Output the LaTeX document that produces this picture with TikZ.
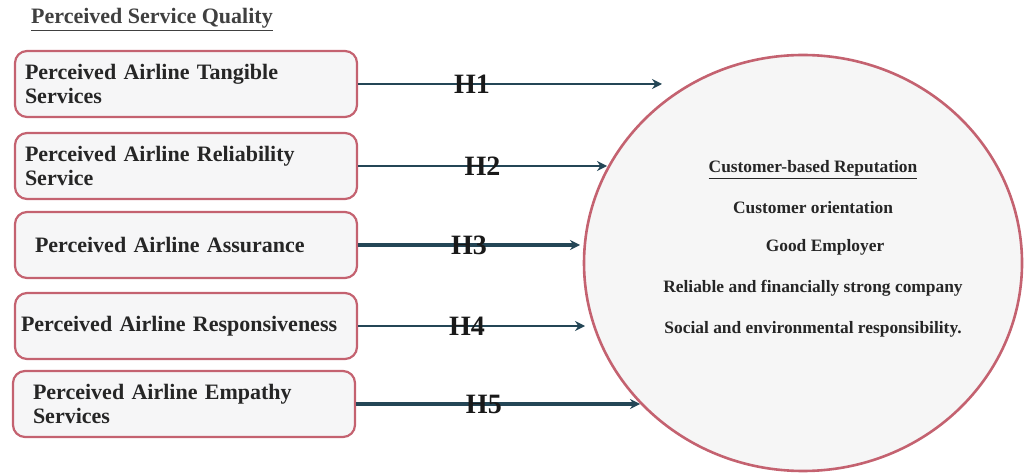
\documentclass[tikz,border=0pt]{standalone}
\usepackage{fontspec}
\setmainfont{Liberation Serif}
\usetikzlibrary{arrows.meta,shapes.geometric}
\definecolor{boxline}{RGB}{196,98,112}
\definecolor{boxfill}{RGB}{246,246,247}
\definecolor{arrowteal}{RGB}{36,70,86}
\tikzset{
  factor/.style={draw=boxline, line width=1.1pt, fill=boxfill, rounded corners=6pt,
    minimum width=171pt, minimum height=33pt, text width=165pt, align=left, inner xsep=3pt,
    font=\bfseries\fontsize{11}{12}\selectfont, text=black!85},
  hyp/.style={draw=arrowteal, line width=1.4pt, -{Stealth[length=5pt,width=5pt]}},
  hlabel/.style={font=\bfseries\fontsize{14}{14}\selectfont, text=black!90, inner sep=0pt},
  repitem/.style={font=\bfseries\fontsize{8.7}{10}\selectfont, text=black!85}
}
\begin{document}
\begin{tikzpicture}[x=0.5pt, y=-0.5pt]
    \useasboundingbox (0,0) rectangle (1026,475);

    % Heading of the left column
    \node[font=\bfseries\fontsize{11}{13}\selectfont, text=black!75] (psq) at (152,20) {\underline{Perceived Service Quality}};

    % Five service quality dimensions
    \node[factor] (tang) at (186,84) {\hspace*{2pt}Perceived Airline Tangible\\\hspace*{2pt}Services};
    \node[factor] (reli) at (186,166) {\hspace*{2pt}Perceived Airline Reliability\\\hspace*{2pt}Service};
    \node[factor] (assu) at (186,245) {\hspace*{7pt}Perceived Airline Assurance};
    \node[factor] (resp) at (186,326) {Perceived Airline Responsiveness};
    \node[factor] (empa) at (184,404) {\hspace*{7pt}Perceived Airline Empathy\\\hspace*{7pt}Services};

    % Customer-based reputation
    \node[ellipse, draw=boxline, line width=1.3pt, fill=gray!7, minimum width=219pt, minimum height=208pt] (rep) at (803,263) {};
    \node[repitem] (r0) at (813,170) {\underline{Customer-based Reputation}};
    \node[repitem] (r1) at (813,208) {Customer orientation};
    \node[repitem] (r2) at (825,247) {Good Employer};
    \node[repitem] (r3) at (813,288) {Reliable and financially strong company};
    \node[repitem] (r4) at (813,329) {Social and environmental responsibility.};

    % Arrow heads stop at or near the circle
    \coordinate (t1) at (662,84);
    \coordinate (t2) at (607,166);
    \coordinate (t3) at (580,245);
    \coordinate (t4) at (585,326);
    \coordinate (t5) at (640,404);

    % Hypotheses
    \draw[hyp] (tang.east) -- (t1) node[hlabel, pos=0.375] {H1};
    \draw[hyp] (reli.east) -- (t2) node[hlabel, pos=0.5] {H2};
    \draw[hyp, line width=1.9pt] (assu.east) -- (t3) node[hlabel, pos=0.5] {H3};
    \draw[hyp] (resp.east) -- (t4) node[hlabel, pos=0.48] {H4};
    \draw[hyp, line width=1.9pt] (empa.east) -- (t5) node[hlabel, pos=0.45] {H5};
\end{tikzpicture}
\end{document}
